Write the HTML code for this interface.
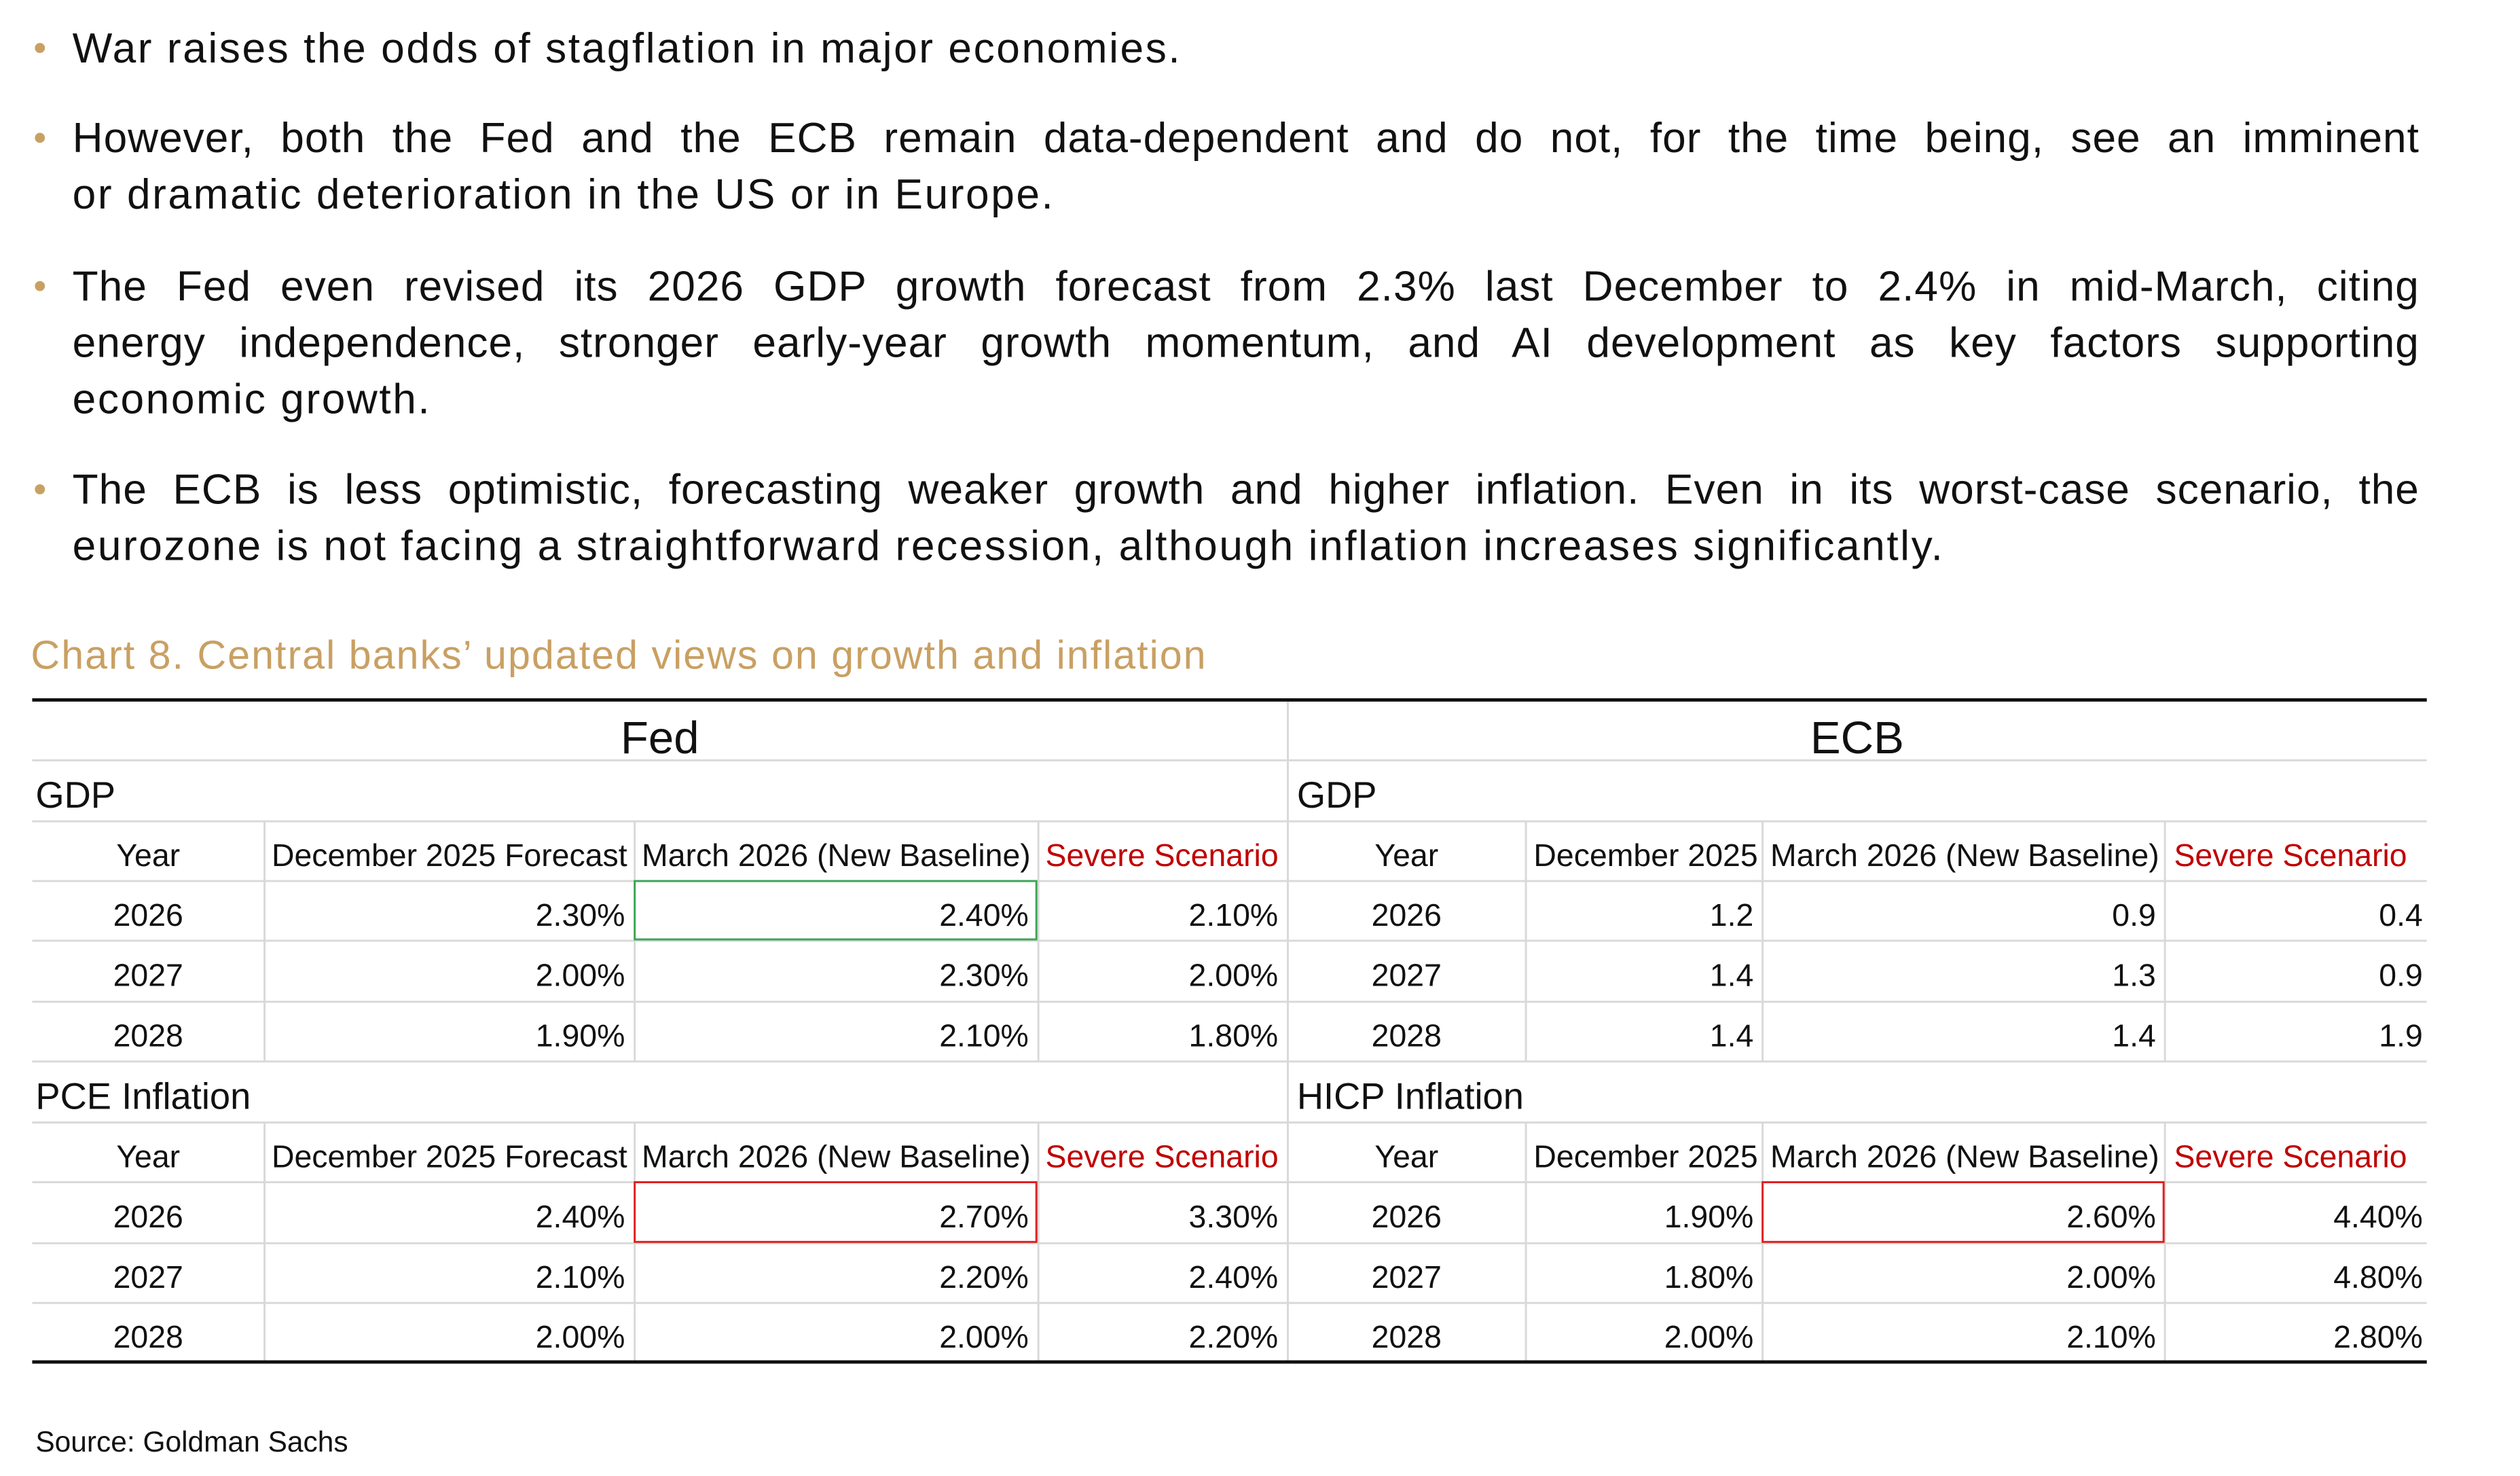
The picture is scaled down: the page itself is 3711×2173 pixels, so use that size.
<!DOCTYPE html>
<html><head><meta charset="utf-8"><style>
body{margin:0;width:3711px;height:2171px;background:#fff;position:relative;overflow:hidden;font-family:"Liberation Sans",sans-serif;color:#111}
#w{position:absolute;left:0;top:0;width:3760px;height:2200px;transform:scale(0.9875);transform-origin:0 0}
.l{position:absolute;left:108px;width:3500px;height:84px;line-height:84px;font-size:63px;letter-spacing:2.6px;white-space:nowrap}
.j{text-align:justify;text-align-last:justify;white-space:normal;letter-spacing:1px}
.b{position:absolute;left:52px;width:15px;height:15px;border-radius:50%;background:#c9a063}
.h{position:absolute;background:#d9d9d9;height:3px}
.v{position:absolute;background:#d9d9d9;width:3px}
.c{position:absolute;font-size:47px;line-height:89px;height:89px;white-space:nowrap;color:#111;margin-top:6px}
.r{text-align:right}
.ct{text-align:center}
.red{color:#c00000}
</style></head><body><div id="w">
<div class="b" style="top:64px"></div>
<div class="l" style="top:30px">War raises the odds of stagflation in major economies.</div>
<div class="b" style="top:198px"></div>
<div class="l j" style="top:164px">However, both the Fed and the ECB remain data-dependent and do not, for the time being, see an imminent</div>
<div class="l" style="top:248px">or dramatic deterioration in the US or in Europe.</div>
<div class="b" style="top:419px"></div>
<div class="l j" style="top:385px">The Fed even revised its 2026 GDP growth forecast from 2.3% last December to 2.4% in mid-March, citing</div>
<div class="l j" style="top:469px">energy independence, stronger early-year growth momentum, and AI development as key factors supporting</div>
<div class="l" style="top:553px">economic growth.</div>
<div class="b" style="top:722px"></div>
<div class="l j" style="top:688px">The ECB is less optimistic, forecasting weaker growth and higher inflation. Even in its worst-case scenario, the</div>
<div class="l" style="top:772px">eurozone is not facing a straightforward recession, although inflation increases significantly.</div>
<div style="position:absolute;left:46px;top:940px;font-size:60px;letter-spacing:2px;line-height:74px;color:#c9a063;white-space:nowrap">Chart 8. Central banks’ updated views on growth and inflation</div>

<div class="h" style="left:48px;width:3571px;top:1132px"></div>
<div class="h" style="left:48px;width:3571px;top:1223px"></div>
<div class="h" style="left:48px;width:3571px;top:1312px"></div>
<div class="h" style="left:48px;width:3571px;top:1401px"></div>
<div class="h" style="left:48px;width:3571px;top:1492px"></div>
<div class="h" style="left:48px;width:3571px;top:1581px"></div>
<div class="h" style="left:48px;width:3571px;top:1672px"></div>
<div class="h" style="left:48px;width:3571px;top:1761px"></div>
<div class="h" style="left:48px;width:3571px;top:1852px"></div>
<div class="h" style="left:48px;width:3571px;top:1941px"></div>
<div class="v" style="left:1919px;top:1044px;height:986px"></div>
<div class="v" style="left:393px;top:1224px;height:358px"></div>
<div class="v" style="left:945px;top:1224px;height:358px"></div>
<div class="v" style="left:1547px;top:1224px;height:358px"></div>
<div class="v" style="left:2274px;top:1224px;height:358px"></div>
<div class="v" style="left:2627px;top:1224px;height:358px"></div>
<div class="v" style="left:3227px;top:1224px;height:358px"></div>
<div class="v" style="left:393px;top:1673px;height:357px"></div>
<div class="v" style="left:945px;top:1673px;height:357px"></div>
<div class="v" style="left:1547px;top:1673px;height:357px"></div>
<div class="v" style="left:2274px;top:1673px;height:357px"></div>
<div class="v" style="left:2627px;top:1673px;height:357px"></div>
<div class="v" style="left:3227px;top:1673px;height:357px"></div>
<div style="position:absolute;left:48px;width:3571px;top:1041px;height:5px;background:#111"></div>
<div style="position:absolute;left:48px;width:3571px;top:2028px;height:5px;background:#111"></div>
<div style="position:absolute;left:945px;top:1312px;width:602px;height:90px;border:3px solid #3aa655;box-sizing:border-box"></div>
<div style="position:absolute;left:945px;top:1761px;width:602px;height:92px;border:3px solid #e02020;box-sizing:border-box"></div>
<div style="position:absolute;left:2627px;top:1761px;width:601px;height:92px;border:3px solid #e02020;box-sizing:border-box"></div>

<div class="c ct" style="left:48px;width:1872px;top:1050px;font-size:68px">Fed</div>
<div class="c ct" style="left:1920px;width:1699px;top:1050px;font-size:68px">ECB</div>
<div class="c" style="left:53px;top:1135px;font-size:55px">GDP</div>
<div class="c" style="left:1934px;top:1135px;font-size:55px">GDP</div>
<div class="c" style="left:53px;top:1584px;font-size:55px">PCE Inflation</div>
<div class="c" style="left:1934px;top:1584px;font-size:55px">HICP Inflation</div>

<div class="c ct" style="left:48px;width:346px;top:1224px">Year</div>
<div class="c" style="left:405px;top:1224px">December 2025 Forecast</div>
<div class="c" style="left:957px;top:1224px">March 2026 (New Baseline)</div>
<div class="c red" style="left:1559px;top:1224px">Severe Scenario</div>
<div class="c ct" style="left:48px;width:346px;top:1313px">2026</div>
<div class="c r" style="left:394px;width:538px;top:1313px">2.30%</div>
<div class="c r" style="left:946px;width:588px;top:1313px">2.40%</div>
<div class="c r" style="left:1548px;width:358px;top:1313px">2.10%</div>
<div class="c ct" style="left:48px;width:346px;top:1403px">2027</div>
<div class="c r" style="left:394px;width:538px;top:1403px">2.00%</div>
<div class="c r" style="left:946px;width:588px;top:1403px">2.30%</div>
<div class="c r" style="left:1548px;width:358px;top:1403px">2.00%</div>
<div class="c ct" style="left:48px;width:346px;top:1493px">2028</div>
<div class="c r" style="left:394px;width:538px;top:1493px">1.90%</div>
<div class="c r" style="left:946px;width:588px;top:1493px">2.10%</div>
<div class="c r" style="left:1548px;width:358px;top:1493px">1.80%</div>

<div class="c ct" style="left:48px;width:346px;top:1673px">Year</div>
<div class="c" style="left:405px;top:1673px">December 2025 Forecast</div>
<div class="c" style="left:957px;top:1673px">March 2026 (New Baseline)</div>
<div class="c red" style="left:1559px;top:1673px">Severe Scenario</div>
<div class="c ct" style="left:48px;width:346px;top:1763px">2026</div>
<div class="c r" style="left:394px;width:538px;top:1763px">2.40%</div>
<div class="c r" style="left:946px;width:588px;top:1763px">2.70%</div>
<div class="c r" style="left:1548px;width:358px;top:1763px">3.30%</div>
<div class="c ct" style="left:48px;width:346px;top:1853px">2027</div>
<div class="c r" style="left:394px;width:538px;top:1853px">2.10%</div>
<div class="c r" style="left:946px;width:588px;top:1853px">2.20%</div>
<div class="c r" style="left:1548px;width:358px;top:1853px">2.40%</div>
<div class="c ct" style="left:48px;width:346px;top:1942px">2028</div>
<div class="c r" style="left:394px;width:538px;top:1942px">2.00%</div>
<div class="c r" style="left:946px;width:588px;top:1942px">2.00%</div>
<div class="c r" style="left:1548px;width:358px;top:1942px">2.20%</div>

<div class="c ct" style="left:1920px;width:355px;top:1224px">Year</div>
<div class="c" style="left:2287px;top:1224px">December 2025</div>
<div class="c" style="left:2640px;top:1224px">March 2026 (New Baseline)</div>
<div class="c red" style="left:3242px;top:1224px">Severe Scenario</div>
<div class="c ct" style="left:1920px;width:355px;top:1313px">2026</div>
<div class="c r" style="left:2275px;width:340px;top:1313px">1.2</div>
<div class="c r" style="left:2628px;width:587px;top:1313px">0.9</div>
<div class="c r" style="left:3228px;width:385px;top:1313px">0.4</div>
<div class="c ct" style="left:1920px;width:355px;top:1403px">2027</div>
<div class="c r" style="left:2275px;width:340px;top:1403px">1.4</div>
<div class="c r" style="left:2628px;width:587px;top:1403px">1.3</div>
<div class="c r" style="left:3228px;width:385px;top:1403px">0.9</div>
<div class="c ct" style="left:1920px;width:355px;top:1493px">2028</div>
<div class="c r" style="left:2275px;width:340px;top:1493px">1.4</div>
<div class="c r" style="left:2628px;width:587px;top:1493px">1.4</div>
<div class="c r" style="left:3228px;width:385px;top:1493px">1.9</div>

<div class="c ct" style="left:1920px;width:355px;top:1673px">Year</div>
<div class="c" style="left:2287px;top:1673px">December 2025</div>
<div class="c" style="left:2640px;top:1673px">March 2026 (New Baseline)</div>
<div class="c red" style="left:3242px;top:1673px">Severe Scenario</div>
<div class="c ct" style="left:1920px;width:355px;top:1763px">2026</div>
<div class="c r" style="left:2275px;width:340px;top:1763px">1.90%</div>
<div class="c r" style="left:2628px;width:587px;top:1763px">2.60%</div>
<div class="c r" style="left:3228px;width:385px;top:1763px">4.40%</div>
<div class="c ct" style="left:1920px;width:355px;top:1853px">2027</div>
<div class="c r" style="left:2275px;width:340px;top:1853px">1.80%</div>
<div class="c r" style="left:2628px;width:587px;top:1853px">2.00%</div>
<div class="c r" style="left:3228px;width:385px;top:1853px">4.80%</div>
<div class="c ct" style="left:1920px;width:355px;top:1942px">2028</div>
<div class="c r" style="left:2275px;width:340px;top:1942px">2.00%</div>
<div class="c r" style="left:2628px;width:587px;top:1942px">2.10%</div>
<div class="c r" style="left:3228px;width:385px;top:1942px">2.80%</div>

<div style="position:absolute;left:53px;top:2124px;font-size:43px;line-height:52px;white-space:nowrap">Source: Goldman Sachs</div>
</div></body></html>
